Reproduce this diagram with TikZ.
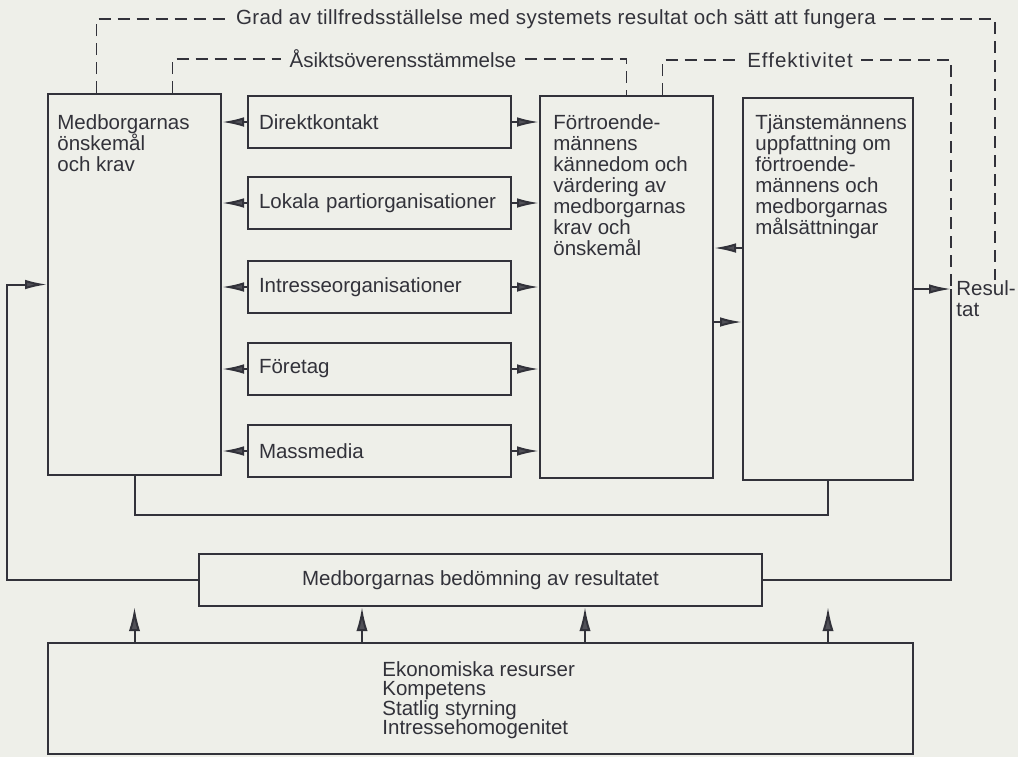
\documentclass[tikz,border=0pt]{standalone}
\usepackage{fontspec}
\setmainfont{Liberation Sans}
\usepackage{tikz}
\usetikzlibrary{calc,arrows.meta}
\definecolor{paper}{RGB}{238,239,233}
\definecolor{ink}{RGB}{50,50,58}

\tikzset{
  box/.style={draw=ink, line width=1pt, inner sep=0pt, anchor=north west},
  chanbox/.style={box, minimum height=26pt, text width=120.5pt,
    inner xsep=5.5pt, align=left},
  boxtext/.style={anchor=north west, inner sep=0pt, align=left},
  looptext/.style={inner xsep=4pt, inner ysep=1pt},
  arr/.style={draw=ink, line width=1pt,
    -{Latex[length=11pt,width=4.8pt,fill=ink!85]}},
  uparr/.style={draw=ink, line width=1pt,
    -{Latex[length=12pt,width=5.6pt,fill=ink!85]}},
  link/.style={draw=ink, line width=1pt},
  dashline/.style={draw=ink, line width=0.8pt, dash pattern=on 6pt off 3.5pt}
}

\begin{document}
\begin{tikzpicture}[x=0.5pt, y=-0.5pt,
  every node/.style={font=\fontsize{10.25pt}{10.5pt}\selectfont, text=ink}]
  \path[use as bounding box, fill=paper] (0,0) rectangle (1018,757);

  % citizens
  \node
  [box, minimum width=86.5pt, minimum height=190.5pt]
  (krav) at (47,93) {};
  \node
  [boxtext]
  (kravtext) at ([shift={(10,21)}]krav.north west)
  {Medborgarnas\\önskemål\\och krav};

  % channels
  \node
  [chanbox]
  (direkt) at (247,95) {Direktkontakt};
  \node
  [chanbox]
  (lokala) at (247,176) {Lokala partiorganisationer};
  \node
  [chanbox]
  (intresse) at (247,260) {Intresseorganisationer};
  \node
  [chanbox]
  (foretag) at (247,342) {Företag};
  \node
  [chanbox]
  (massmedia) at (247,424) {Massmedia};

  % politicians and officials
  \node
  [box, minimum width=86.5pt, minimum height=191pt]
  (fort) at (539,95) {};
  \node
  [boxtext]
  (forttext) at ([shift={(14,19)}]fort.north west)
  {Förtroende-\\männens\\kännedom och\\värdering av\\medborgarnas\\krav och\\önskemål};

  \node
  [box, minimum width=85pt, minimum height=191pt]
  (tjanst) at (742,97) {};
  \node
  [boxtext]
  (tjansttext) at ([shift={(13,17)}]tjanst.north west)
  {Tjänstemännens\\uppfattning om\\förtroende-\\männens och\\medborgarnas\\målsättningar};

  \node
  [boxtext, inner xsep=2.5pt]
  (resultat) at (951,280) {Resul-\\tat};

  % judgement and resources
  \node
  [box, minimum width=281.5pt, minimum height=26pt]
  (bedom) at (198,553) {Medborgarnas bedömning av resultatet};

  \node
  [box, minimum width=432.5pt, minimum height=55.5pt]
  (resurs) at (47,642) {};
  \node
  [boxtext, font=\fontsize{10.25pt}{9.7pt}\selectfont]
  (resurstext) at ([shift={(335,19)}]resurs.north west)
  {Ekonomiska resurser\\Kompetens\\Statlig styrning\\Intressehomogenitet};

  % dashed loops
  \node
  [looptext, font=\fontsize{10.25pt}{10.5pt}\selectfont\addfontfeatures{LetterSpace=2}]
  (gradtext) at (556,19)
  {Grad av tillfredsställelse med systemets resultat och sätt att fungera};
  \node
  [looptext]
  (asikttext) at (403,59) {Åsiktsöverensstämmelse};
  \node
  [looptext, font=\fontsize{10.25pt}{10.5pt}\selectfont\addfontfeatures{LetterSpace=5}]
  (efftext) at (800,60) {Effektivitet};

  \draw
  [dashline]
  ([xshift=-19pt]krav.north) |- (gradtext.west);
  \draw
  [dashline]
  (gradtext.east) -| ([xshift=4.5pt]resultat.north);

  \draw
  [dashline]
  ([xshift=19pt]krav.north) |- (asikttext.west);
  \draw
  [dashline]
  (asikttext.east) -| (fort.north);

  \draw
  [dashline]
  ([xshift=18pt]fort.north) |- (efftext.west);
  \draw
  [dashline]
  (efftext.east) -| (tjanst.east -| resultat.west);

  % channels to both sides
  \draw
  [arr]
  (direkt.west) -- (direkt.west -| krav.east);
  \draw
  [arr]
  (lokala.west) -- (lokala.west -| krav.east);
  \draw
  [arr]
  (intresse.west) -- (intresse.west -| krav.east);
  \draw
  [arr]
  (foretag.west) -- (foretag.west -| krav.east);
  \draw
  [arr]
  (massmedia.west) -- (massmedia.west -| krav.east);

  \draw
  [arr]
  (direkt.east) -- (direkt.east -| fort.west);
  \draw
  [arr]
  (lokala.east) -- (lokala.east -| fort.west);
  \draw
  [arr]
  (intresse.east) -- (intresse.east -| fort.west);
  \draw
  [arr]
  (foretag.east) -- (foretag.east -| fort.west);
  \draw
  [arr]
  (massmedia.east) -- (massmedia.east -| fort.west);

  % between politicians and officials
  \draw
  [arr]
  ([yshift=20.5pt]tjanst.west) coordinate (back)
  -- (back -| fort.east);
  \draw
  [arr]
  ([yshift=-17.5pt]fort.east) coordinate (forth)
  -- (forth -| tjanst.west);

  \draw
  [arr]
  (tjanst.east) -- (tjanst.east -| resultat.west);

  % feedback
  \draw
  [link]
  (tjanst.east -| resultat.west) |- (bedom.east);
  \draw
  [arr]
  (bedom.west) -| ($(krav.west)+(-40,0)$) -- (krav.west);
  \draw
  [link]
  (krav.south) -- ++(0,39) -| (tjanst.south);

  % resources
  \coordinate (in2) at ([xshift=82pt]bedom.south west);
  \coordinate (in3) at ([xshift=193.5pt]bedom.south west);
  \draw
  [uparr]
  (krav.south |- resurs.north) -- (krav.south |- bedom.south);
  \draw
  [uparr]
  (in2 |- resurs.north) -- (in2);
  \draw
  [uparr]
  (in3 |- resurs.north) -- (in3);
  \draw
  [uparr]
  (tjanst.south |- resurs.north) -- (tjanst.south |- bedom.south);
\end{tikzpicture}
\end{document}
